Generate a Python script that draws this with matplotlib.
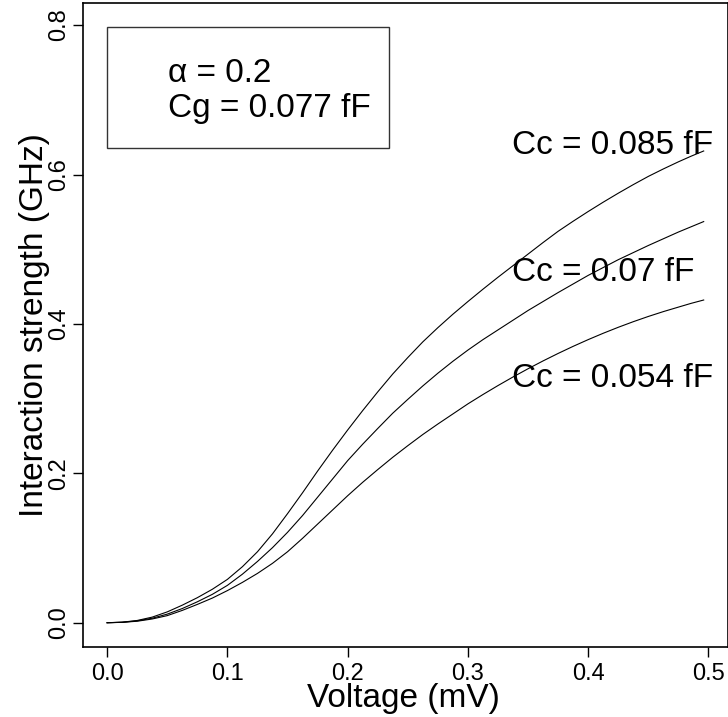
import matplotlib
matplotlib.use("Agg")
import matplotlib.pyplot as plt
from matplotlib.patches import Rectangle

plt.rcParams['font.family'] = ['Liberation Sans', 'DejaVu Sans']

voltage = [0.0, 0.0125, 0.025, 0.0375, 0.05, 0.0625, 0.075, 0.0875, 0.1, 0.1125,
           0.125, 0.1375, 0.15, 0.1625, 0.175, 0.1875, 0.2, 0.2125, 0.225, 0.2375,
           0.25, 0.2625, 0.275, 0.2875, 0.3, 0.3125, 0.325, 0.3375, 0.35, 0.3625,
           0.375, 0.3875, 0.4, 0.4125, 0.425, 0.4375, 0.45, 0.4625, 0.475, 0.4855, 0.496]
g_cc085 = [0.0, 0.0007, 0.003, 0.0075, 0.0145, 0.0235, 0.0335, 0.0448, 0.058, 0.075,
           0.095, 0.119, 0.146, 0.174, 0.203, 0.231, 0.258, 0.284, 0.309, 0.333,
           0.355, 0.376, 0.395, 0.413, 0.430, 0.4465, 0.4625, 0.478, 0.4935, 0.509,
           0.524, 0.5375, 0.5505, 0.563, 0.575, 0.5865, 0.5975, 0.6075, 0.617, 0.6245, 0.6315]
g_cc070 = [0.0, 0.0006, 0.0025, 0.006, 0.0115, 0.019, 0.028, 0.038, 0.050, 0.065,
           0.082, 0.1005, 0.121, 0.1435, 0.168, 0.1925, 0.217, 0.239, 0.260, 0.2805,
           0.299, 0.317, 0.334, 0.350, 0.365, 0.379, 0.392, 0.405, 0.418, 0.430,
           0.442, 0.4535, 0.465, 0.4755, 0.486, 0.4955, 0.505, 0.514, 0.523, 0.530, 0.537]
g_cc054 = [0.0, 0.0005, 0.002, 0.005, 0.0095, 0.0165, 0.0245, 0.033, 0.043, 0.054,
           0.066, 0.0795, 0.095, 0.113, 0.132, 0.151, 0.170, 0.188, 0.205, 0.2215,
           0.237, 0.252, 0.266, 0.2795, 0.293, 0.3055, 0.3175, 0.329, 0.340, 0.3505,
           0.3605, 0.370, 0.379, 0.3875, 0.3955, 0.403, 0.410, 0.4165, 0.4225, 0.4275, 0.432]
curve_labels = ["Cc = 0.085 fF", "Cc = 0.07 fF", "Cc = 0.054 fF"]
label_y = [0.639, 0.469, 0.327]
info_lines = ["α = 0.2", "Cg = 0.077 fF"]
xticks = [0.0, 0.1, 0.2, 0.3, 0.4, 0.5]
yticks = [0.0, 0.2, 0.4, 0.6, 0.8]

W, H = 728, 717
fig = plt.figure(figsize=(W / 100, H / 100), dpi=100)
L, R, T, B = 83.3, 727.5, 2.7, 646.7
ax = fig.add_axes([L / W, 1 - B / H, (R - L) / W, (B - T) / H])

for g in (g_cc085, g_cc070, g_cc054):
    ax.plot(voltage, g, color='black', lw=0.8, solid_joinstyle='round')

ax.set_xlim(-0.0198, 0.5158)
ax.set_ylim(-0.0321, 0.830)
ax.set_xticks(xticks)
ax.set_xticklabels([f"{v:.1f}" for v in xticks])
ax.set_yticks(yticks)
ax.set_yticklabels([f"{v:.1f}" for v in yticks], rotation=90, va='center')
ax.tick_params(axis='both', direction='out', length=7.2, width=1.0, labelsize=17, color='black')
ax.tick_params(axis='x', pad=4.5)
ax.tick_params(axis='y', pad=2)
for s in ax.spines.values():
    s.set_linewidth(1.2)
    s.set_color('black')

# info box
ax.add_patch(Rectangle((0.0, 0.635), 0.2343, 0.1627, fill=False, edgecolor='#333333', lw=1.0))
ax.text(0.0507, 0.735, info_lines[0], fontsize=24, ha='left', va='center')
ax.text(0.0507, 0.688, info_lines[1], fontsize=24, ha='left', va='center')

for lab, yy in zip(curve_labels, label_y):
    ax.text(0.3366, yy, lab, fontsize=24, ha='left', va='center')

fig.text(403 / W, 1 - 707 / H, "Voltage (mV)", fontsize=24, ha='center', va='baseline')
fig.text(43 / W, 1 - 324.7 / H, "Interaction strength (GHz)", fontsize=24, ha='center',
         va='baseline', rotation=90, rotation_mode='anchor')

fig.savefig("out.png", dpi=100)
